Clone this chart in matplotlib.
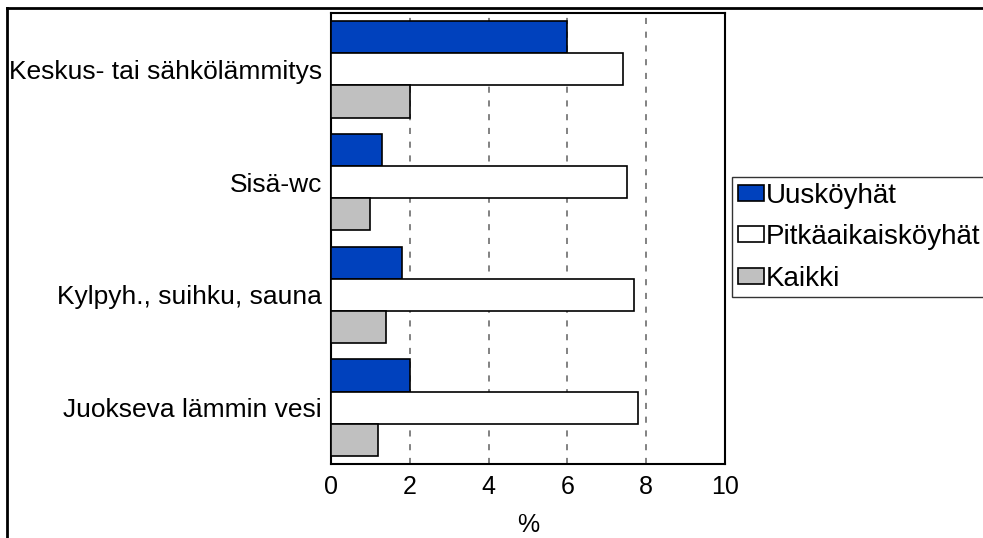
import numpy as np
import matplotlib
matplotlib.use("Agg")
import matplotlib.pyplot as plt
from matplotlib.lines import Line2D

plt.rcParams['font.family'] = ['Liberation Sans', 'DejaVu Sans']

categories = ["Keskus- tai sähkölämmitys", "Sisä-wc", "Kylpyh., suihku, sauna", "Juokseva lämmin vesi"]
series_names = ["Uusköyhät", "Pitkäaikaisköyhät", "Kaikki"]
uuskoyhat = [6.0, 1.3, 1.8, 2.0]
pitkaaikais = [7.4, 7.5, 7.7, 7.8]
kaikki = [2.0, 1.0, 1.4, 1.2]
colors = ["#0041bd", "#ffffff", "#c0c0c0"]

fig = plt.figure(figsize=(9.83, 5.38), dpi=100)
ax = fig.add_axes([331/983, 1 - 464/538, (725 - 331)/983, (464 - 13)/538])

h = 0.286
pos = np.arange(len(categories))
for i, (vals, name, col) in enumerate(zip([uuskoyhat, pitkaaikais, kaikki], series_names, colors)):
    ax.barh(pos + (i - 1) * h, vals, height=h, color=col, edgecolor="black",
            linewidth=1.2, label=name, zorder=3)

ax.set_xlim(0, 10)
ax.set_ylim(len(categories) - 0.5, -0.5)
ax.set_xticks([0, 2, 4, 6, 8, 10])
ax.set_yticks(pos)
ax.set_yticklabels(categories)
ax.tick_params(axis="y", length=0, labelsize=19, pad=6.5)
ax.tick_params(axis="x", length=0, labelsize=18, pad=8)
ax.set_xlabel("%", fontsize=18, labelpad=10)
for xg in [2, 4, 6, 8]:
    ax.axvline(xg, color="#606060", linestyle=(0, (4, 5)), linewidth=1.1, zorder=1)
for s in ax.spines.values():
    s.set_linewidth(1.5)
    s.set_color("black")

leg = ax.legend(loc="upper left", bbox_to_anchor=(732/983, 1 - 177/538),
                bbox_transform=fig.transFigure, fontsize=20, frameon=True,
                fancybox=False, edgecolor="black", handlelength=0.94,
                handleheight=0.5, handletextpad=0.07, borderpad=0.2,
                labelspacing=0.56, borderaxespad=0)
leg.get_frame().set_linewidth(1.0)

# figure border lines (top and left)
fig.add_artist(Line2D([7/983, 1], [1 - 8/538, 1 - 8/538], color="black", linewidth=2,
                      transform=fig.transFigure))
fig.add_artist(Line2D([7/983, 7/983], [0, 1 - 8/538], color="black", linewidth=2,
                      transform=fig.transFigure))

fig.savefig("out.png", dpi=100)
